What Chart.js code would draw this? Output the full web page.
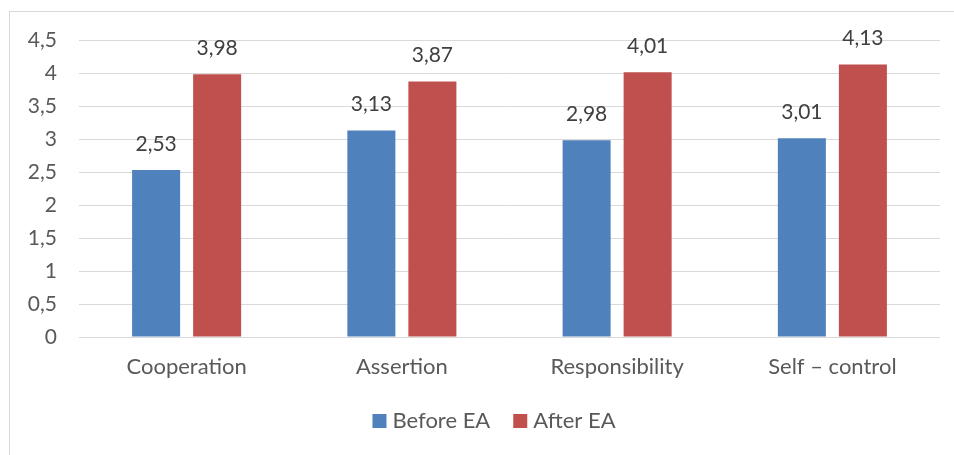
<!DOCTYPE html>
<html>
<head>
<meta charset="utf-8">
<script src="https://cdn.jsdelivr.net/npm/chart.js@4/dist/chart.umd.min.js"></script>
<style>
  html, body { margin: 0; padding: 0; background: #ffffff; overflow: hidden; }
  #frame { position: absolute; left: 9px; top: 11px; width: 970px; height: 460px; border: 1px solid #d9d9d9; box-sizing: border-box; }
  #wrap { position: absolute; left: 0; top: 0; width: 954px; height: 455px; }
</style>
</head>
<body>
<div id="frame"></div>
<div id="wrap"><canvas id="chart" width="954" height="455"></canvas></div>
<script>
const categories = ['Cooperation', 'Assertion', 'Responsibility', 'Self \u2013 control'];
const beforeEA = [2.53, 3.13, 2.98, 3.01];
const afterEA = [3.98, 3.87, 4.01, 4.13];
const seriesNames = ['Before EA', 'After EA'];
const yTicks = [0, 0.5, 1, 1.5, 2, 2.5, 3, 3.5, 4, 4.5];

const FONT = 'Lato, "Open Sans", sans-serif';
const fmt = v => String(v).replace('.', ',');

// Writes each bar's value above it, with a decimal comma
const valueLabels = {
  id: 'valueLabels',
  afterDatasetsDraw(chart) {
    const ctx = chart.ctx;
    ctx.save();
    ctx.font = '21px ' + FONT;
    ctx.fillStyle = '#404040';
    ctx.textAlign = 'center';
    ctx.textBaseline = 'middle';
    chart.data.datasets.forEach((ds, i) => {
      chart.getDatasetMeta(i).data.forEach((bar, j) => {
        ctx.fillText(fmt(ds.data[j]), bar.x, bar.y - 26);
      });
    });
    ctx.restore();
  }
};

// Legend row under the axis, centred on the framed chart box
const bottomLegend = {
  id: 'bottomLegend',
  afterDraw(chart, args, opts) {
    const ctx = chart.ctx;
    const box = 14, gap = 6, itemGap = 23;
    ctx.save();
    ctx.font = '22px ' + FONT;
    ctx.textBaseline = 'middle';
    ctx.textAlign = 'left';
    const items = chart.data.datasets.map(ds => ({
      text: ds.label, color: ds.backgroundColor, w: box + gap + ctx.measureText(ds.label).width
    }));
    const total = items.reduce((s, it) => s + it.w, 0) + itemGap * (items.length - 1);
    let x = opts.centerX - total / 2;
    const y = chart.chartArea.bottom + opts.offsetY;
    items.forEach(it => {
      ctx.fillStyle = it.color;
      ctx.fillRect(x, y - box / 2, box, box);
      ctx.fillStyle = '#595959';
      ctx.fillText(it.text, x + box + gap, y);
      x += it.w + itemGap;
    });
    ctx.restore();
  }
};

new Chart(document.getElementById('chart'), {
  type: 'bar',
  data: {
    labels: categories,
    datasets: [
      { label: seriesNames[0], data: beforeEA, backgroundColor: '#4f81bd' },
      { label: seriesNames[1], data: afterEA, backgroundColor: '#c0504d' }
    ]
  },
  options: {
    responsive: false,
    animation: false,
    devicePixelRatio: 1,
    layout: { padding: { left: 0, right: 14, top: 40, bottom: 65 } },
    datasets: { bar: { categoryPercentage: 0.567, barPercentage: 0.787 } },
    scales: {
      x: {
        grid: { display: false, drawTicks: false },
        border: { display: false },
        ticks: { color: '#595959', font: { family: FONT, size: 22 }, padding: 17 },
        afterFit(scale) { scale.height = 53; }
      },
      y: {
        min: 0, max: 4.5,
        afterBuildTicks(scale) { scale.ticks = yTicks.map(v => ({ value: v })); },
        grid: { color: '#d9d9d9', lineWidth: 1, drawTicks: false },
        border: { display: false },
        ticks: { color: '#595959', font: { family: FONT, size: 21 }, padding: 22, callback: v => fmt(v) },
        afterFit(scale) { scale.width = 79; }
      }
    },
    plugins: {
      legend: { display: false },
      tooltip: { enabled: false },
      bottomLegend: { centerX: 494, offsetY: 84 }
    }
  },
  plugins: [valueLabels, bottomLegend]
});
</script>
</body>
</html>
